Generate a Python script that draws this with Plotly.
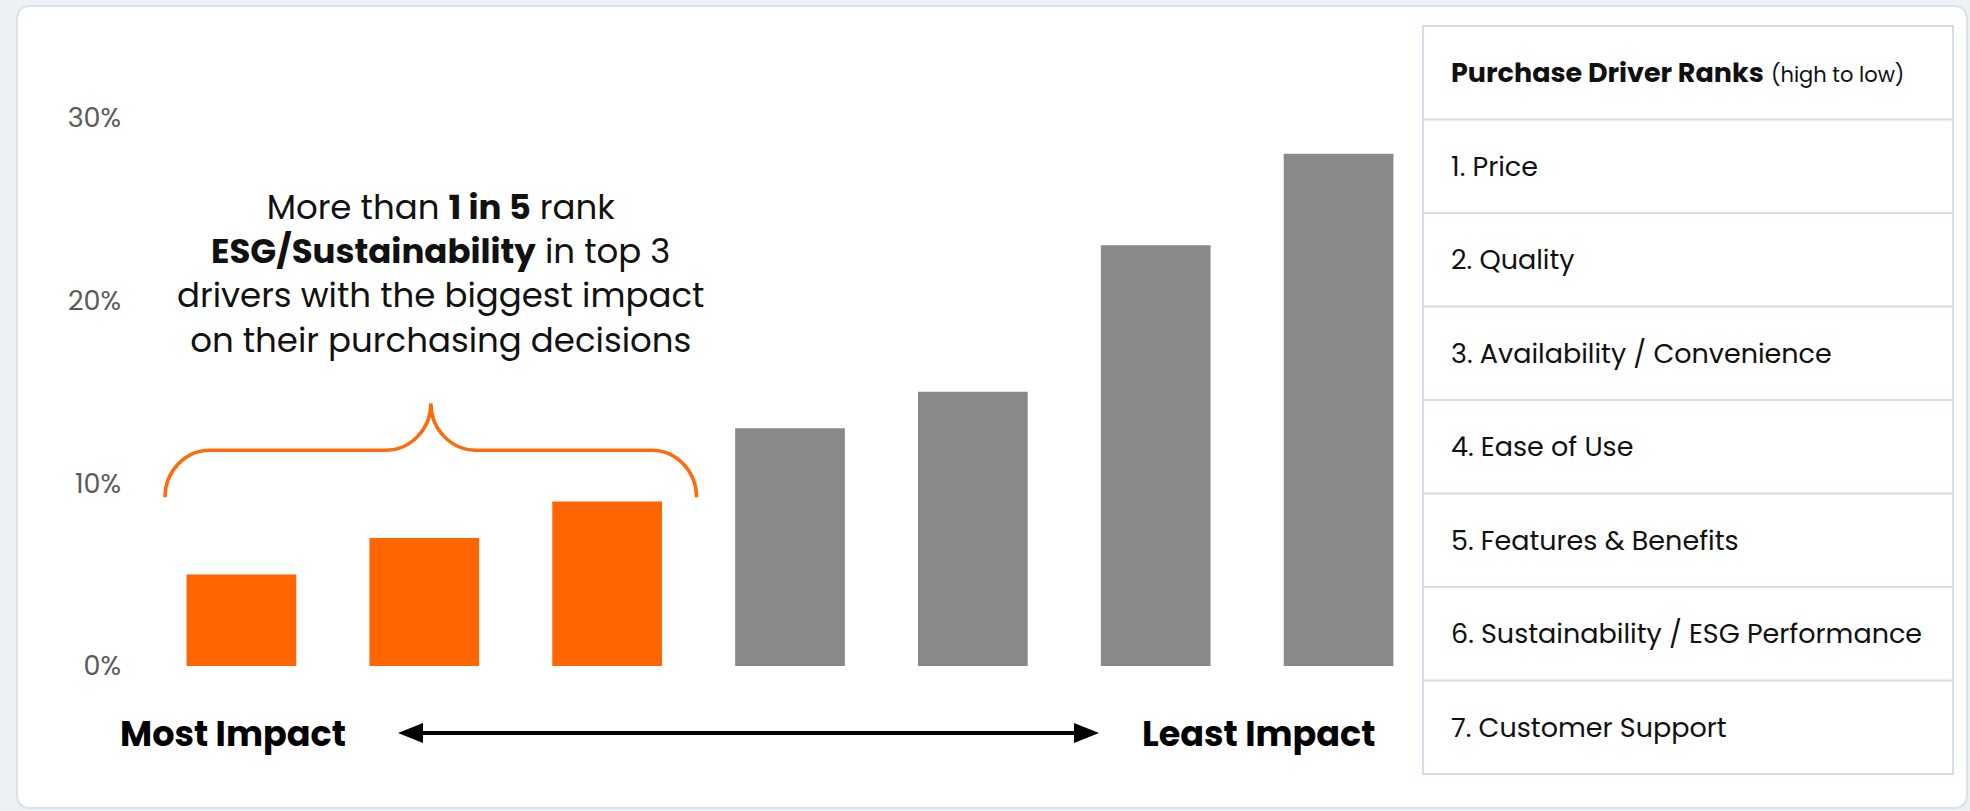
import plotly.graph_objects as go

W, H = 1970, 811
FONT = "Poppins, Inter, sans-serif"

# Share of respondents placing ESG / sustainability at each rank position
rank_positions = [1, 2, 3, 4, 5, 6, 7]
rank_names = ["Rank 1", "Rank 2", "Rank 3", "Rank 4", "Rank 5", "Rank 6", "Rank 7"]
esg_share = [5, 7, 9, 13, 15, 23, 28]
bar_colors = ["#FF6600", "#FF6600", "#FF6600", "#898989", "#898989", "#898989", "#898989"]

y_ticks = [0, 10, 20, 30]
y_tick_labels = ["0%", "10%", "20%", "30%"]

table_header = "<b>Purchase Driver Ranks</b> <span style='font-size:21px'>(high to low)</span>"
drivers = [
    "1. Price",
    "2. Quality",
    "3. Availability / Convenience",
    "4. Ease of Use",
    "5. Features & Benefits",
    "6. Sustainability / ESG Performance",
    "7. Customer Support",
]

callout = ("More than <b>1 in 5</b> rank<br><b>ESG/Sustainability</b> in top 3<br>"
           "drivers with the biggest impact<br>on their purchasing decisions")


def px(x):
    return x / W


def py(y):
    return 1 - y / H


fig = go.Figure()
fig.add_trace(go.Bar(
    x=rank_positions,
    y=esg_share,
    customdata=rank_names,
    marker=dict(color=bar_colors, line=dict(width=0)),
    width=0.6,
    hovertemplate="%{customdata}: %{y}%<extra></extra>",
))

shapes = []

# white card with rounded corners
cx0, cy0, cx1, cy1, r = 17, 6, 1967, 808, 14
card = (f"M {px(cx0 + r)},{py(cy0)} L {px(cx1 - r)},{py(cy0)} "
        f"Q {px(cx1)},{py(cy0)} {px(cx1)},{py(cy0 + r)} L {px(cx1)},{py(cy1 - r)} "
        f"Q {px(cx1)},{py(cy1)} {px(cx1 - r)},{py(cy1)} L {px(cx0 + r)},{py(cy1)} "
        f"Q {px(cx0)},{py(cy1)} {px(cx0)},{py(cy1 - r)} L {px(cx0)},{py(cy0 + r)} "
        f"Q {px(cx0)},{py(cy0)} {px(cx0 + r)},{py(cy0)} Z")
shapes.append(dict(type="path", path=card, xref="paper", yref="paper", layer="below",
                   fillcolor="#ffffff", line=dict(color="#d9e1ea", width=2)))

# curly brace over the three top-rank bars (data units)
bx0, bx1, bmid = 0.582, 3.489, 2.036
by_end, by_bar, by_peak = 9.23, 11.8, 14.37
cw = 0.246  # horizontal extent of each curved segment
k = 0.552
brace = (
    f"M {bx0},{by_end} "
    f"C {bx0},{by_end + k * (by_bar - by_end)} {bx0 + cw - k * cw},{by_bar} {bx0 + cw},{by_bar} "
    f"L {bmid - cw},{by_bar} "
    f"C {bmid - cw + k * cw},{by_bar} {bmid},{by_peak - k * (by_peak - by_bar)} {bmid},{by_peak} "
    f"C {bmid},{by_peak - k * (by_peak - by_bar)} {bmid + cw - k * cw},{by_bar} {bmid + cw},{by_bar} "
    f"L {bx1 - cw},{by_bar} "
    f"C {bx1 - cw + k * cw},{by_bar} {bx1},{by_end + k * (by_bar - by_end)} {bx1},{by_end}"
)
shapes.append(dict(type="path", path=brace, xref="x", yref="y",
                   line=dict(color="#FF6A0D", width=3.5)))

# double-headed impact arrow
ay = 733
ax0, ax1, head_len, head_half = 398, 1099, 25, 10
shapes.append(dict(type="line", xref="paper", yref="paper",
                   x0=px(ax0 + 10), x1=px(ax1 - 10), y0=py(ay), y1=py(ay),
                   line=dict(color="#000000", width=4)))
shapes.append(dict(type="path", xref="paper", yref="paper", fillcolor="#000000",
                   line=dict(width=0),
                   path=f"M {px(ax0)},{py(ay)} L {px(ax0 + head_len)},{py(ay - head_half)} "
                        f"L {px(ax0 + head_len)},{py(ay + head_half)} Z"))
shapes.append(dict(type="path", xref="paper", yref="paper", fillcolor="#000000",
                   line=dict(width=0),
                   path=f"M {px(ax1)},{py(ay)} L {px(ax1 - head_len)},{py(ay - head_half)} "
                        f"L {px(ax1 - head_len)},{py(ay + head_half)} Z"))

# ranking table
tx0, tx1, ty0 = 1423, 1953, 26
row_h = 93.5
rows = [table_header] + drivers
ty1 = ty0 + row_h * len(rows)
shapes.append(dict(type="rect", xref="paper", yref="paper",
                   x0=px(tx0), x1=px(tx1), y0=py(ty0), y1=py(ty1),
                   fillcolor="#ffffff", line=dict(color="#d5dee8", width=2)))
for i in range(1, len(rows)):
    yy = ty0 + i * row_h
    shapes.append(dict(type="line", xref="paper", yref="paper",
                       x0=px(tx0), x1=px(tx1), y0=py(yy), y1=py(yy),
                       line=dict(color="#d5dee8", width=2)))

annotations = []
for i, label in enumerate(rows):
    annotations.append(dict(
        text=label, xref="paper", yref="paper",
        x=px(tx0 + 26), y=py(ty0 + (i + 0.5) * row_h),
        xanchor="left", yanchor="middle", showarrow=False,
        font=dict(family=FONT, size=27, color="#111111"),
    ))

annotations.append(dict(
    text=callout, xref="paper", yref="paper", x=px(440), y=py(273),
    xanchor="center", yanchor="middle", align="center", showarrow=False,
    font=dict(family=FONT, size=34, color="#111111"),
))
annotations.append(dict(
    text="<b>Most Impact</b>", xref="paper", yref="paper", x=px(233), y=py(733),
    xanchor="center", yanchor="middle", showarrow=False,
    font=dict(family=FONT, size=35, color="#000000"),
))
annotations.append(dict(
    text="<b>Least Impact</b>", xref="paper", yref="paper", x=px(1259), y=py(733),
    xanchor="center", yanchor="middle", showarrow=False,
    font=dict(family=FONT, size=35, color="#000000"),
))

fig.update_layout(
    width=W, height=H,
    margin=dict(l=0, r=0, t=0, b=0, autoexpand=False),
    paper_bgcolor="#edf1f5",
    plot_bgcolor="rgba(0,0,0,0)",
    showlegend=False,
    shapes=shapes,
    annotations=annotations,
    xaxis=dict(domain=[px(150), px(1430)], range=[0.5, 7.5], visible=False, fixedrange=True),
    yaxis=dict(domain=[py(666), py(99)], range=[0, 31], tickvals=y_ticks, ticktext=y_tick_labels,
               showgrid=False, zeroline=False, showline=False, ticks="",
               ticklabelstandoff=28, automargin=False,
               tickfont=dict(family=FONT, size=27, color="#5a5a5a"), fixedrange=True),
    font=dict(family=FONT),
)

fig.write_html("out.html")
